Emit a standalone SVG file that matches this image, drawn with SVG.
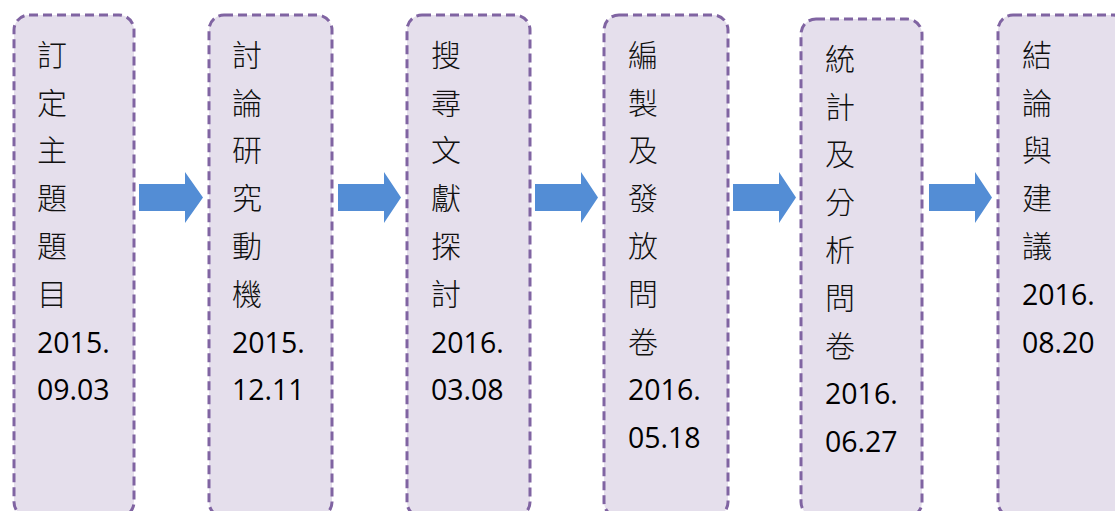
<svg xmlns="http://www.w3.org/2000/svg" width="1115" height="511" viewBox="0 0 1115 511">
<style>
.box{fill:#E5DFEC;stroke:#8064A2;stroke-width:3;stroke-dasharray:9 5}
.arr{fill:#538DD5}
.cj{font-family:"Noto Sans CJK TC","Noto Sans CJK SC",sans-serif;font-size:30px;font-weight:300;fill:#111}
.dg{font-family:"Open Sans","Liberation Sans",sans-serif;font-size:28.5px;fill:#000}
</style>
<rect width="1115" height="511" fill="#fff"/>
<g id="connectors">
<polygon class="arr" points="139,184 185,184 185,172 203,197.5 185,223 185,211 139,211"/>
<polygon class="arr" points="338,184 384,184 384,172 401,197.5 384,223 384,211 338,211"/>
<polygon class="arr" points="535,184 581,184 581,172 598,197.5 581,223 581,211 535,211"/>
<polygon class="arr" points="733,184 779,184 779,172 796,197.5 779,223 779,211 733,211"/>
<polygon class="arr" points="929,184 975,184 975,172 992,197.5 975,223 975,211 929,211"/>
</g>
<g id="node1">
<rect class="box" x="14" y="15" width="120" height="502" rx="15"/>
<text class="cj" x="37" y="66">訂</text>
<text class="cj" x="37" y="114">定</text>
<text class="cj" x="37" y="161">主</text>
<text class="cj" x="37" y="209">題</text>
<text class="cj" x="37" y="257">題</text>
<text class="cj" x="37" y="305">目</text>
<text class="dg" x="37" y="353">2015.</text>
<text class="dg" x="37" y="400">09.03</text>
</g>
<g id="node2">
<rect class="box" x="209" y="15" width="123" height="502" rx="15"/>
<text class="cj" x="232" y="66">討</text>
<text class="cj" x="232" y="114">論</text>
<text class="cj" x="232" y="161">研</text>
<text class="cj" x="232" y="209">究</text>
<text class="cj" x="232" y="257">動</text>
<text class="cj" x="232" y="305">機</text>
<text class="dg" x="232" y="353">2015.</text>
<text class="dg" x="232" y="400">12.11</text>
</g>
<g id="node3">
<rect class="box" x="407" y="15" width="123" height="502" rx="15"/>
<text class="cj" x="431" y="66">搜</text>
<text class="cj" x="431" y="114">尋</text>
<text class="cj" x="431" y="161">文</text>
<text class="cj" x="431" y="209">獻</text>
<text class="cj" x="431" y="257">探</text>
<text class="cj" x="431" y="305">討</text>
<text class="dg" x="431" y="353">2016.</text>
<text class="dg" x="431" y="400">03.08</text>
</g>
<g id="node4">
<rect class="box" x="604" y="15" width="124" height="502" rx="15"/>
<text class="cj" x="628" y="66">編</text>
<text class="cj" x="628" y="114">製</text>
<text class="cj" x="628" y="161">及</text>
<text class="cj" x="628" y="209">發</text>
<text class="cj" x="628" y="257">放</text>
<text class="cj" x="628" y="305">問</text>
<text class="cj" x="628" y="353">卷</text>
<text class="dg" x="628" y="400">2016.</text>
<text class="dg" x="628" y="448">05.18</text>
</g>
<g id="node5">
<rect class="box" x="801" y="19" width="121" height="498" rx="15"/>
<text class="cj" x="825" y="70">統</text>
<text class="cj" x="825" y="118">計</text>
<text class="cj" x="825" y="165">及</text>
<text class="cj" x="825" y="213">分</text>
<text class="cj" x="825" y="261">析</text>
<text class="cj" x="825" y="309">問</text>
<text class="cj" x="825" y="357">卷</text>
<text class="dg" x="825" y="404">2016.</text>
<text class="dg" x="825" y="452">06.27</text>
</g>
<g id="node6">
<rect class="box" x="998" y="15" width="130" height="502" rx="15"/>
<text class="cj" x="1022" y="66">結</text>
<text class="cj" x="1022" y="114">論</text>
<text class="cj" x="1022" y="161">與</text>
<text class="cj" x="1022" y="209">建</text>
<text class="cj" x="1022" y="257">議</text>
<text class="dg" x="1022" y="305">2016.</text>
<text class="dg" x="1022" y="353">08.20</text>
</g>
</svg>
